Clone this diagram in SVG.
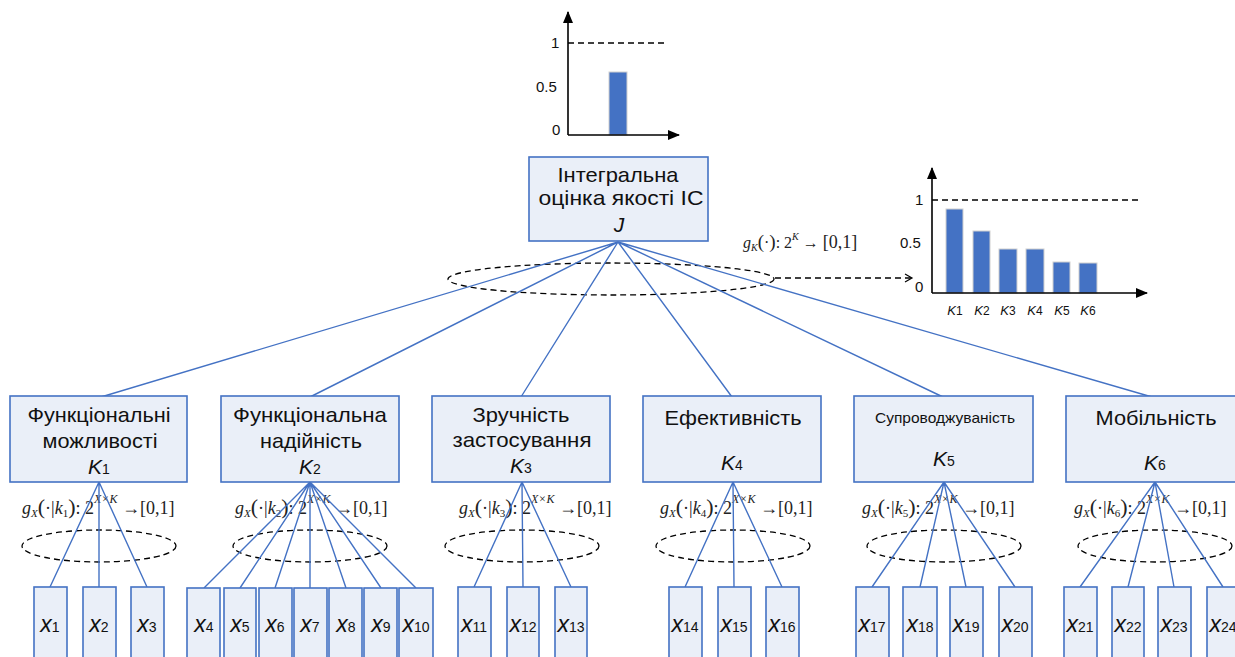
<svg xmlns="http://www.w3.org/2000/svg" width="1235" height="657" viewBox="0 0 1235 657">
<defs>
<style>
.box{fill:#EAEFF8;stroke:#4472C4;stroke-width:1.6}
.ln{stroke:#4472C4;stroke-width:1.4;fill:none}
.ax{stroke:#000;stroke-width:1.6;fill:none}
.dash{stroke:#000;stroke-width:1.3;fill:none;stroke-dasharray:6 4}
.bar{fill:#4472C4;stroke:#D0D0D0;stroke-width:1}
.t{font-family:"Liberation Sans",Arial,sans-serif;font-size:21px;fill:#111;text-anchor:middle}
.kl{font-family:"Liberation Sans",Arial,sans-serif;font-size:21px;fill:#111;text-anchor:middle}
.xl{font-family:"Liberation Sans",Arial,sans-serif;font-size:23px;fill:#111;text-anchor:middle}
.it{font-style:italic}
.dg{font-size:14px;font-style:normal}
.ch{font-family:"Liberation Sans",Arial,sans-serif;font-size:15px;fill:#111}
.fm{font-family:"Liberation Serif","Times New Roman",serif;font-size:18px;fill:#222}
.fk{font-family:"Liberation Serif","Times New Roman",serif;font-size:16px;fill:#222}
.sb{font-size:11px}
.sp{font-size:12px}
.sk{font-size:10px}
.pr{font-size:22px}
</style>
<marker id="ah" markerWidth="12" markerHeight="10" refX="11" refY="5" orient="auto" markerUnits="userSpaceOnUse">
<path d="M0,0 L12,5 L0,10 Z" fill="#000"/>
</marker>
<marker id="oa" markerWidth="10" markerHeight="10" refX="8" refY="5" orient="auto" markerUnits="userSpaceOnUse">
<path d="M1,1 L8,5 L1,9" fill="none" stroke="#000" stroke-width="1.2"/>
</marker>
</defs>

<!-- top chart -->
<g id="chart-top">
<line class="dash" x1="568" y1="43" x2="665" y2="43"/>
<rect class="bar" x="609" y="72" width="18" height="63"/>
<line class="ax" x1="568" y1="135" x2="568" y2="12" marker-end="url(#ah)"/>
<line class="ax" x1="568" y1="135" x2="679" y2="135" marker-end="url(#ah)"/>
<text class="ch" x="551" y="48">1</text>
<text class="ch" x="536" y="92">0.5</text>
<text class="ch" x="552" y="135">0</text>
</g>

<!-- right chart -->
<g id="chart-right">
<line class="dash" x1="932" y1="200" x2="1142" y2="200"/>
<rect class="bar" x="946" y="209" width="17" height="84"/>
<rect class="bar" x="973" y="231" width="17" height="62"/>
<rect class="bar" x="999" y="249" width="18" height="44"/>
<rect class="bar" x="1026" y="249" width="18" height="44"/>
<rect class="bar" x="1053" y="262" width="17" height="31"/>
<rect class="bar" x="1079" y="263" width="18" height="30"/>
<line class="ax" x1="932" y1="293" x2="932" y2="168" marker-end="url(#ah)"/>
<line class="ax" x1="932" y1="293" x2="1147" y2="293" marker-end="url(#ah)"/>
<text class="ch" x="915" y="205">1</text>
<text class="ch" x="900" y="248">0.5</text>
<text class="ch" x="915" y="292">0</text>
<g font-family="Liberation Sans,Arial,sans-serif" font-size="13" text-anchor="middle" fill="#111">
<text x="955" y="315"><tspan font-style="italic">K</tspan><tspan font-size="12">1</tspan></text>
<text x="982" y="315"><tspan font-style="italic">K</tspan><tspan font-size="12">2</tspan></text>
<text x="1008" y="315"><tspan font-style="italic">K</tspan><tspan font-size="12">3</tspan></text>
<text x="1035" y="315"><tspan font-style="italic">K</tspan><tspan font-size="12">4</tspan></text>
<text x="1062" y="315"><tspan font-style="italic">K</tspan><tspan font-size="12">5</tspan></text>
<text x="1088" y="315"><tspan font-style="italic">K</tspan><tspan font-size="12">6</tspan></text>
</g>
</g>

<!-- formulas -->
<g id="formulas">
<text class="fk" x="743" y="248"><tspan class="it">g</tspan><tspan class="it sk" dy="3">K</tspan><tspan dy="-3" style="font-size:19px">(</tspan><tspan>·</tspan><tspan style="font-size:19px">)</tspan><tspan>: 2</tspan><tspan class="it sk" dy="-8">K</tspan><tspan dy="8"> → </tspan><tspan style="font-size:18px">[0,1]</tspan></text>
<text class="fm" x="22" y="514"><tspan class="it">g</tspan><tspan class="it sb" dy="3">X</tspan><tspan class="pr" dy="-3">(</tspan><tspan>·|</tspan><tspan class="it">k</tspan><tspan class="sb" dy="3">1</tspan><tspan class="pr" dy="-3">)</tspan><tspan>: 2</tspan><tspan class="it sp" dy="-11">X×K</tspan><tspan dy="11"> →</tspan><tspan>[0,1]</tspan></text>
<text class="fm" x="235" y="514"><tspan class="it">g</tspan><tspan class="it sb" dy="3">X</tspan><tspan class="pr" dy="-3">(</tspan><tspan>·|</tspan><tspan class="it">k</tspan><tspan class="sb" dy="3">2</tspan><tspan class="pr" dy="-3">)</tspan><tspan>: 2</tspan><tspan class="it sp" dy="-11">X×K</tspan><tspan dy="11"> →</tspan><tspan>[0,1]</tspan></text>
<text class="fm" x="459" y="514"><tspan class="it">g</tspan><tspan class="it sb" dy="3">X</tspan><tspan class="pr" dy="-3">(</tspan><tspan>·|</tspan><tspan class="it">k</tspan><tspan class="sb" dy="3">3</tspan><tspan class="pr" dy="-3">)</tspan><tspan>: 2</tspan><tspan class="it sp" dy="-11">X×K</tspan><tspan dy="11"> →</tspan><tspan>[0,1]</tspan></text>
<text class="fm" x="660" y="514"><tspan class="it">g</tspan><tspan class="it sb" dy="3">X</tspan><tspan class="pr" dy="-3">(</tspan><tspan>·|</tspan><tspan class="it">k</tspan><tspan class="sb" dy="3">4</tspan><tspan class="pr" dy="-3">)</tspan><tspan>: 2</tspan><tspan class="it sp" dy="-11">X×K</tspan><tspan dy="11"> →</tspan><tspan>[0,1]</tspan></text>
<text class="fm" x="862" y="514"><tspan class="it">g</tspan><tspan class="it sb" dy="3">X</tspan><tspan class="pr" dy="-3">(</tspan><tspan>·|</tspan><tspan class="it">k</tspan><tspan class="sb" dy="3">5</tspan><tspan class="pr" dy="-3">)</tspan><tspan>: 2</tspan><tspan class="it sp" dy="-11">X×K</tspan><tspan dy="11"> →</tspan><tspan>[0,1]</tspan></text>
<text class="fm" x="1074" y="514"><tspan class="it">g</tspan><tspan class="it sb" dy="3">X</tspan><tspan class="pr" dy="-3">(</tspan><tspan>·|</tspan><tspan class="it">k</tspan><tspan class="sb" dy="3">6</tspan><tspan class="pr" dy="-3">)</tspan><tspan>: 2</tspan><tspan class="it sp" dy="-11">X×K</tspan><tspan dy="11"> →</tspan><tspan>[0,1]</tspan></text>
</g>

<!-- ellipses -->
<g id="ellipses">
<ellipse class="dash" cx="611" cy="279" rx="163" ry="16"/>
<line class="dash" x1="775" y1="278" x2="912" y2="278" stroke-dasharray="4 3" marker-end="url(#oa)"/>
<ellipse class="dash" cx="99" cy="546" rx="77" ry="16"/>
<ellipse class="dash" cx="310" cy="546" rx="77" ry="16"/>
<ellipse class="dash" cx="522" cy="546" rx="77" ry="16"/>
<ellipse class="dash" cx="733" cy="546" rx="77" ry="16"/>
<ellipse class="dash" cx="944" cy="546" rx="77" ry="16"/>
<ellipse class="dash" cx="1155" cy="546" rx="77" ry="16"/>
</g>

<!-- connectors -->
<g id="connectors">
<path class="ln" d="M618,242 L101,397 M618,242 L310,397 M618,242 L521,397 M618,242 L732,397 M618,242 L943,397 M618,242 L1152,397"/>
<path class="ln" d="M99,482 L50,587 M99,482 L99,587 M99,482 L147,587"/>
<path class="ln" d="M310,482 L204,588 M310,482 L240,588 M310,482 L275,588 M310,482 L310,588 M310,482 L346,588 M310,482 L381,588 M310,482 L416,588"/>
<path class="ln" d="M522,482 L474,587 M522,482 L523,587 M522,482 L571,587"/>
<path class="ln" d="M733,482 L685,587 M733,482 L734,587 M733,482 L782,587"/>
<path class="ln" d="M944,482 L872,587 M944,482 L920,587 M944,482 L966,587 M944,482 L1015,587"/>
<path class="ln" d="M1155,482 L1080,587 M1155,482 L1128,587 M1155,482 L1174,587 M1155,482 L1223,587"/>
</g>

<!-- root node -->
<g id="root">
<rect class="box" x="529" y="157" width="179" height="84"/>
<text class="t" x="618" y="182" textLength="121" lengthAdjust="spacingAndGlyphs">Інтегральна</text>
<text class="t" x="621" y="205" textLength="165" lengthAdjust="spacingAndGlyphs">оцінка якості ІС</text>
<text class="t it" x="619" y="232">J</text>
</g>

<!-- K nodes -->
<g id="K1">
<rect class="box" x="10" y="396" width="177" height="86"/>
<text class="t" x="99" y="422" textLength="143" lengthAdjust="spacingAndGlyphs">Функціональні</text>
<text class="t" x="100" y="448" textLength="115" lengthAdjust="spacingAndGlyphs">можливості</text>
<text class="kl" x="99" y="474"><tspan class="it">K</tspan><tspan class="dg">1</tspan></text>
</g>
<g id="K2">
<rect class="box" x="221" y="396" width="178" height="86"/>
<text class="t" x="310" y="422" textLength="154" lengthAdjust="spacingAndGlyphs">Функціональна</text>
<text class="t" x="311" y="448" textLength="102" lengthAdjust="spacingAndGlyphs">надійність</text>
<text class="kl" x="310" y="474"><tspan class="it">K</tspan><tspan class="dg">2</tspan></text>
</g>
<g id="K3">
<rect class="box" x="432" y="396" width="178" height="86"/>
<text class="t" x="521" y="422" textLength="97" lengthAdjust="spacingAndGlyphs">Зручність</text>
<text class="t" x="522" y="447" textLength="139" lengthAdjust="spacingAndGlyphs">застосування</text>
<text class="kl" x="521" y="473"><tspan class="it">K</tspan><tspan class="dg">3</tspan></text>
</g>
<g id="K4">
<rect class="box" x="643" y="396" width="178" height="86"/>
<text class="t" x="733" y="425" textLength="137" lengthAdjust="spacingAndGlyphs">Ефективність</text>
<text class="kl" x="732" y="470"><tspan class="it">K</tspan><tspan class="dg">4</tspan></text>
</g>
<g id="K5">
<rect class="box" x="854" y="396" width="179" height="86"/>
<text class="t" x="945" y="423" style="font-size:15px" textLength="140" lengthAdjust="spacingAndGlyphs">Супроводжуваність</text>
<text class="kl" x="944" y="466"><tspan class="it">K</tspan><tspan class="dg">5</tspan></text>
</g>
<g id="K6">
<rect class="box" x="1066" y="396" width="178" height="86"/>
<text class="t" x="1156" y="425" textLength="121" lengthAdjust="spacingAndGlyphs">Мобільність</text>
<text class="kl" x="1155" y="470"><tspan class="it">K</tspan><tspan class="dg">6</tspan></text>
</g>

<!-- x nodes -->
<g id="x1"><rect class="box" x="34" y="587" width="33" height="75"/><text class="xl" x="50" y="632"><tspan class="it">x</tspan><tspan class="dg">1</tspan></text></g>
<g id="x2"><rect class="box" x="83" y="587" width="33" height="75"/><text class="xl" x="99" y="632"><tspan class="it">x</tspan><tspan class="dg">2</tspan></text></g>
<g id="x3"><rect class="box" x="131" y="587" width="33" height="75"/><text class="xl" x="147" y="632"><tspan class="it">x</tspan><tspan class="dg">3</tspan></text></g>
<g id="x4"><rect class="box" x="187" y="588" width="33" height="75"/><text class="xl" x="204" y="632"><tspan class="it">x</tspan><tspan class="dg">4</tspan></text></g>
<g id="x5"><rect class="box" x="224" y="588" width="32" height="75"/><text class="xl" x="240" y="632"><tspan class="it">x</tspan><tspan class="dg">5</tspan></text></g>
<g id="x6"><rect class="box" x="259" y="588" width="33" height="75"/><text class="xl" x="275" y="632"><tspan class="it">x</tspan><tspan class="dg">6</tspan></text></g>
<g id="x7"><rect class="box" x="294" y="588" width="33" height="75"/><text class="xl" x="310" y="632"><tspan class="it">x</tspan><tspan class="dg">7</tspan></text></g>
<g id="x8"><rect class="box" x="329" y="588" width="33" height="75"/><text class="xl" x="346" y="632"><tspan class="it">x</tspan><tspan class="dg">8</tspan></text></g>
<g id="x9"><rect class="box" x="364" y="588" width="33" height="75"/><text class="xl" x="381" y="632"><tspan class="it">x</tspan><tspan class="dg">9</tspan></text></g>
<g id="x10"><rect class="box" x="399" y="588" width="34" height="75"/><text class="xl" x="416" y="632"><tspan class="it">x</tspan><tspan class="dg">10</tspan></text></g>
<g id="x11"><rect class="box" x="458" y="587" width="33" height="75"/><text class="xl" x="474" y="632"><tspan class="it">x</tspan><tspan class="dg">11</tspan></text></g>
<g id="x12"><rect class="box" x="507" y="587" width="32" height="75"/><text class="xl" x="523" y="632"><tspan class="it">x</tspan><tspan class="dg">12</tspan></text></g>
<g id="x13"><rect class="box" x="555" y="587" width="32" height="75"/><text class="xl" x="571" y="632"><tspan class="it">x</tspan><tspan class="dg">13</tspan></text></g>
<g id="x14"><rect class="box" x="669" y="587" width="33" height="75"/><text class="xl" x="685" y="632"><tspan class="it">x</tspan><tspan class="dg">14</tspan></text></g>
<g id="x15"><rect class="box" x="718" y="587" width="33" height="75"/><text class="xl" x="734" y="632"><tspan class="it">x</tspan><tspan class="dg">15</tspan></text></g>
<g id="x16"><rect class="box" x="766" y="587" width="33" height="75"/><text class="xl" x="782" y="632"><tspan class="it">x</tspan><tspan class="dg">16</tspan></text></g>
<g id="x17"><rect class="box" x="856" y="587" width="33" height="75"/><text class="xl" x="872" y="632"><tspan class="it">x</tspan><tspan class="dg">17</tspan></text></g>
<g id="x18"><rect class="box" x="903" y="587" width="34" height="75"/><text class="xl" x="920" y="632"><tspan class="it">x</tspan><tspan class="dg">18</tspan></text></g>
<g id="x19"><rect class="box" x="950" y="587" width="33" height="75"/><text class="xl" x="966" y="632"><tspan class="it">x</tspan><tspan class="dg">19</tspan></text></g>
<g id="x20"><rect class="box" x="999" y="587" width="33" height="75"/><text class="xl" x="1015" y="632"><tspan class="it">x</tspan><tspan class="dg">20</tspan></text></g>
<g id="x21"><rect class="box" x="1064" y="587" width="33" height="75"/><text class="xl" x="1080" y="632"><tspan class="it">x</tspan><tspan class="dg">21</tspan></text></g>
<g id="x22"><rect class="box" x="1112" y="587" width="32" height="75"/><text class="xl" x="1128" y="632"><tspan class="it">x</tspan><tspan class="dg">22</tspan></text></g>
<g id="x23"><rect class="box" x="1158" y="587" width="33" height="75"/><text class="xl" x="1174" y="632"><tspan class="it">x</tspan><tspan class="dg">23</tspan></text></g>
<g id="x24"><rect class="box" x="1207" y="587" width="34" height="75"/><text class="xl" x="1223" y="632"><tspan class="it">x</tspan><tspan class="dg">24</tspan></text></g>
</svg>
